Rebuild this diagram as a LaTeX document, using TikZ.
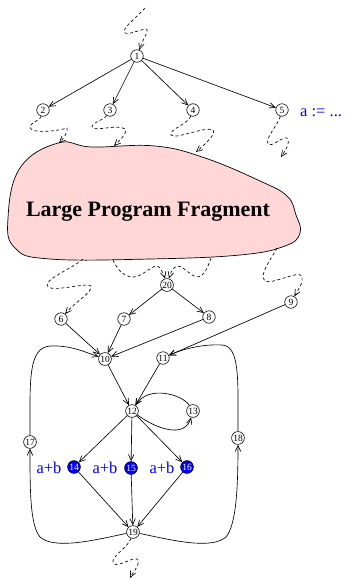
\documentclass[tikz,border=0pt]{standalone}
\usepackage{fontspec}
\setmainfont{Liberation Serif}
\usetikzlibrary{arrows.meta,calc}
\definecolor{fragpink}{RGB}{255,215,215}
\tikzset{
  % CFG vertex: small circle, number inside
  vtx/.style={draw, circle, minimum size=12.5pt, inner sep=0.5pt, line width=0.6pt,
              font=\fontsize{9.5}{10}\selectfont},
  vtx-hot/.style={vtx, fill=blue, text=white},
  % expression / assignment labels beside vertices
  exprlbl/.style={text=blue, font=\fontsize{16.5}{18}\selectfont, inner sep=0pt},
  % Arrows
  flowarr/.style={-{Straight Barb[length=6pt,width=5.5pt]}, line width=0.65pt},
  pathsq/.style={flowarr, dash pattern=on 3pt off 2.5pt},
  % The program fragment blob
  fragment/.style={draw, fill=fragpink, line width=0.7pt},
  fraglbl/.style={font=\fontsize{22}{24}\selectfont\bfseries, inner sep=0pt}
}

\begin{document}
\begin{tikzpicture}[x=1pt, y=-1pt]
\useasboundingbox (0,0) rectangle (346,579);

% ============== Top: branch node 1 and its successors ==============
\node[vtx] (n1) at (137,56) {1};
\node[vtx] (n2) at (43,110) {2};
\node[vtx] (n3) at (110,110) {3};
\node[vtx] (n4) at (193,110) {4};
\node[vtx] (n5) at (282,110) {5};
\node[exprlbl, anchor=base west] (asg) at (300,116) {a := ...};

\draw[flowarr] (n1) -- (n2);
\draw[flowarr] (n1) -- (n3);
\draw[flowarr] (n1) -- (n4);
\draw[flowarr] (n1) -- (n5);

% ============== Middle: the large fragment ==============
\draw[fragment] plot[smooth cycle, tension=0.7] coordinates {
  (8,218) (20,168) (58,143) (92,147) (155,146) (205,158) (260,181)
  (287,196) (296,215) (300,233) (285,246) (240,255) (150,259) (50,259) (15,248)};
\node[fraglbl, anchor=base] (frag) at (148,216) {Large Program Fragment};

% ============== Below the fragment ==============
\node[vtx] (n20) at (167,285) {20};
\node[vtx] (n6) at (61,319) {6};
\node[vtx] (n7) at (124,319) {7};
\node[vtx] (n8) at (209,317) {8};
\node[vtx] (n9) at (291,302) {9};
\node[vtx] (n10) at (105,359) {10};
\node[vtx] (n11) at (163,358) {11};
\node[vtx] (n12) at (132,411) {12};
\node[vtx] (n13) at (193,411) {13};
\node[vtx] (n17) at (30,442) {17};
\node[vtx] (n18) at (238,438) {18};
\node[vtx-hot] (n14) at (74,467) {14};
\node[vtx-hot] (n15) at (131,468) {15};
\node[vtx-hot] (n16) at (187,467) {16};
\node[vtx] (n19) at (133,532) {19};

\node[exprlbl, anchor=base] (e14) at (49,473) {a+b};
\node[exprlbl, anchor=base] (e15) at (105,473) {a+b};
\node[exprlbl, anchor=base] (e16) at (162,473) {a+b};

\draw[flowarr] (n20) -- (n7);
\draw[flowarr] (n20) -- (n8);
\draw[flowarr] (n6) -- (n10);
\draw[flowarr] (n7) -- (n10);
\draw[flowarr] (n8) -- (n10);
\draw[flowarr] (n9) -- (n11);
\draw[flowarr] (n10) -- (n12);
\draw[flowarr] (n11) -- (n12);
\draw[flowarr] (n12) -- (n14);
\draw[flowarr] (n12) -- (n15);
\draw[flowarr] (n12) -- (n16);
\draw[flowarr] (n14) -- (n19);
\draw[flowarr] (n15) -- (n19);
\draw[flowarr] (n16) -- (n19);

% self loop 12 <-> 13
\draw[flowarr] (n12) .. controls (158,430) and (185,438) .. (n13);
\draw[flowarr] (n13) .. controls (182,394) and (148,385) .. (n12);

% outer loops through 17 and 18
\draw[flowarr] (n17) .. controls (30,380) and (28,348) .. (50,346) .. controls (70,345) and (85,352) .. (n10);
\draw[flowarr] (n18) .. controls (238,380) and (240,346) .. (222,345) .. controls (205,344) and (185,348) .. (n11);
\draw[flowarr] (n19) .. controls (95,540) and (55,550) .. (40,537) .. controls (30,525) and (30,490) .. (n17);
\draw[flowarr] (n19) .. controls (171,540) and (211,550) .. (226,537) .. controls (236,525) and (238,490) .. (n18);

% ============== Dashed squiggles: paths of any length ==============
\coordinate (entry) at (145,8);
\draw[pathsq] (entry) .. controls (136,18) and (120,30) .. (125,33) .. controls (130,36) and (150,24) .. (147,32) .. controls (145,37) and (142,42) .. (n1);

\coordinate (f2) at (59,143);
\draw[pathsq] (n2) .. controls (40,121) and (26,124) .. (31,129) .. controls (36,134) and (62,130) .. (67,128) .. controls (69,131) and (63,139) .. (f2);
\coordinate (f3) at (114,146);
\draw[pathsq] (n3) .. controls (104,120) and (88,124) .. (93,128) .. controls (98,131) and (118,124) .. (125,129) .. controls (128,133) and (119,141) .. (f3);
\coordinate (f4) at (196,152);
\draw[pathsq] (n4) .. controls (188,124) and (168,130) .. (171,135) .. controls (175,140) and (205,126) .. (213,130) .. controls (217,134) and (203,146) .. (f4);
\coordinate (x5) at (281,157);
\draw[pathsq] (n5) .. controls (278,125) and (265,138) .. (268,144) .. controls (271,148) and (283,136) .. (287,138) .. controls (291,142) and (285,151) .. (x5);

\coordinate (f6) at (83,259);
\draw[pathsq] (f6) .. controls (70,270) and (42,280) .. (48,287) .. controls (55,292) and (88,282) .. (91,286) .. controls (93,292) and (75,302) .. (n6);
\coordinate (f20a) at (113,260);
\draw[pathsq] (f20a) .. controls (118,272) and (128,280) .. (138,276) .. controls (148,272) and (155,262) .. (160,268) .. controls (162,271) and (164,275) .. (n20);
\coordinate (f20b) at (211,258);
\draw[pathsq] (f20b) .. controls (207,270) and (202,280) .. (194,276) .. controls (186,272) and (180,262) .. (174,268) .. controls (171,271) and (170,275) .. (n20);
\coordinate (f9) at (277,248);
\draw[pathsq] (f9) .. controls (272,258) and (258,275) .. (265,281) .. controls (272,285) and (298,270) .. (302,276) .. controls (304,282) and (298,290) .. (n9);

\coordinate (exit) at (130,578);
\draw[pathsq] (n19) .. controls (128,548) and (108,558) .. (114,564) .. controls (120,567) and (135,555) .. (138,560) .. controls (140,565) and (133,572) .. (exit);

\end{tikzpicture}
\end{document}
